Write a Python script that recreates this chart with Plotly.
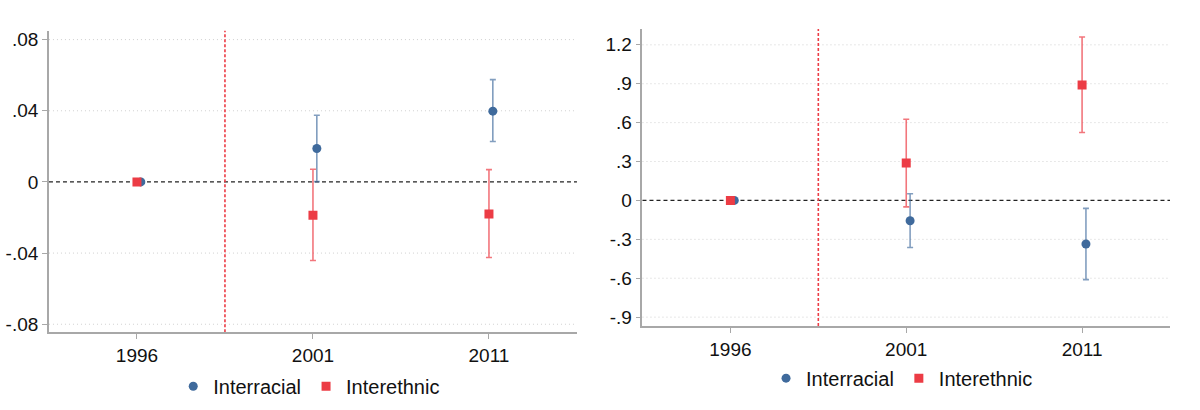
import plotly.graph_objects as go

years = ["1996", "2001", "2011"]
series_names = ["Interracial", "Interethnic"]

# Left panel
left_interracial = [0.0, 0.0188, 0.0398]
left_interracial_lo = [0.0, 0.0002, 0.0227]
left_interracial_hi = [0.0, 0.0375, 0.0575]
left_interethnic = [0.0, -0.0187, -0.0180]
left_interethnic_lo = [0.0, -0.0442, -0.0425]
left_interethnic_hi = [0.0, 0.0071, 0.0069]

# Right panel
right_interracial = [0.0, -0.157, -0.336]
right_interracial_lo = [0.0, -0.363, -0.611]
right_interracial_hi = [0.0, 0.051, -0.061]
right_interethnic = [0.0, 0.288, 0.891]
right_interethnic_lo = [0.0, -0.050, 0.524]
right_interethnic_hi = [0.0, 0.626, 1.260]

left_ticks = [-0.08, -0.04, 0, 0.04, 0.08]
left_ticktext = ["-.08", "-.04", "0", ".04", ".08"]
right_ticks = [-0.9, -0.6, -0.3, 0, 0.3, 0.6, 0.9, 1.2]
right_ticktext = ["-.9", "-.6", "-.3", "0", ".3", ".6", ".9", "1.2"]

BLUE = "#3f6a9c"
BLUE_E = "rgba(63,106,156,0.65)"
RED = "#ec3c45"
RED_E = "rgba(236,60,69,0.7)"
FONT = "Liberation Sans, Arial, Helvetica, sans-serif"

pos = list(range(len(years)))
off_blue = 0.022

fig = go.Figure()

def add(xref, yref, legend, vals, lo, hi, name, color, ecolor, symbol, off):
    fig.add_trace(go.Scatter(
        x=[p + off for p in pos], y=vals, mode="markers", name=name,
        xaxis=xref, yaxis=yref, legend=legend,
        marker=dict(color=color, size=9, symbol=symbol),
        error_y=dict(type="data", array=[h - v for h, v in zip(hi, vals)],
                     arrayminus=[v - l for v, l in zip(vals, lo)],
                     color=ecolor, thickness=1.6, width=3),
    ))

add("x", "y", "legend", left_interracial, left_interracial_lo, left_interracial_hi,
    series_names[0], BLUE, BLUE_E, "circle", off_blue)
add("x", "y", "legend", left_interethnic, left_interethnic_lo, left_interethnic_hi,
    series_names[1], RED, RED_E, "square", 0)
add("x2", "y2", "legend2", right_interracial, right_interracial_lo, right_interracial_hi,
    series_names[0], BLUE, BLUE_E, "circle", off_blue)
add("x2", "y2", "legend2", right_interethnic, right_interethnic_lo, right_interethnic_hi,
    series_names[1], RED, RED_E, "square", 0)

axis_common = dict(showline=True, linecolor="#a8a8a8", linewidth=1.6,
                   ticks="outside", ticklen=5, tickcolor="#a8a8a8", tickwidth=1.2,
                   tickfont=dict(size=19, color="#111", family=FONT),
                   zeroline=False, showgrid=False)

fig.update_layout(
    width=1200, height=410,
    margin=dict(l=0, r=0, t=0, b=0),
    plot_bgcolor="white", paper_bgcolor="white",
    font=dict(family=FONT, size=19, color="#111"),
    xaxis=dict(domain=[0.0408, 0.4808], range=[-0.5, 2.5], tickvals=pos, ticktext=years,
               anchor="y", **axis_common),
    yaxis=dict(domain=[0.1841, 0.9268], range=[-0.0845, 0.085], tickvals=left_ticks,
               ticktext=left_ticktext, anchor="x", **axis_common),
    xaxis2=dict(domain=[0.5354, 0.975], range=[-0.5, 2.5], tickvals=pos, ticktext=years,
                anchor="y2", **axis_common),
    yaxis2=dict(domain=[0.1993, 0.931], range=[-0.969, 1.322], tickvals=right_ticks,
                ticktext=right_ticktext, anchor="x2", **axis_common),
    legend=dict(orientation="h", x=0.2577, y=0.051, xanchor="center", yanchor="middle",
                font=dict(size=20, family=FONT, color="#111"), itemwidth=30,
                bgcolor="rgba(0,0,0,0)"),
    legend2=dict(orientation="h", x=0.7517, y=0.071, xanchor="center", yanchor="middle",
                 font=dict(size=20, family=FONT, color="#111"), itemwidth=30,
                 bgcolor="rgba(0,0,0,0)"),
)

for xr, yr, ticks in [("x", "y", left_ticks), ("x2", "y2", right_ticks)]:
    for t in ticks:
        if t == 0:
            continue
        fig.add_shape(type="line", xref=f"{xr} domain", yref=yr, x0=0, x1=1, y0=t, y1=t,
                      line=dict(color="#d0d0d0", width=1, dash="1px,3px"), layer="below")
    fig.add_shape(type="line", xref=f"{xr} domain", yref=yr, x0=0, x1=1, y0=0, y1=0,
                  line=dict(color="#222", width=1.3, dash="4px,3px"), layer="below")
    fig.add_shape(type="line", xref=xr, yref=f"{yr} domain", x0=0.5, x1=0.5, y0=0, y1=1,
                  line=dict(color="#ec3c45", width=1.6, dash="3px,2px"), layer="below")

fig.write_html("out.html")
